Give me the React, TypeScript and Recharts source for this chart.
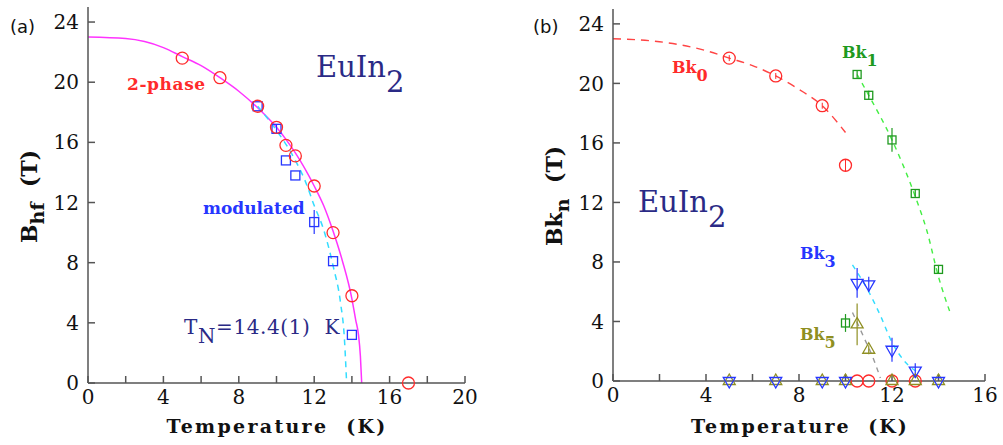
import React from 'react'
import { ComposedChart, Line, Scatter, XAxis, YAxis, ErrorBar } from 'recharts'

const SERIF = '"DejaVu Serif", "Liberation Serif", serif'
const NAVY = '#2a2a86'
const RED = '#ff2b2b'
const BLUE = '#2636ff'
const GREEN = '#1f9a1f'
const OLIVE = '#8f8f22'

// panel (a): B_hf vs T
const A_PHASE_T = [5, 7, 9, 10, 10.5, 11, 12, 13, 14, 17]
const A_PHASE_B = [21.6, 20.3, 18.4, 17.0, 15.8, 15.1, 13.1, 10.0, 5.8, 0]
const A_MOD_T = [9, 10, 10.5, 11, 12, 13, 14]
const A_MOD_B = [18.4, 16.9, 14.8, 13.8, 10.7, 8.1, 3.2]
const A_MOD_ERR = [0, 0.3, 0, 0, 0.8, 0, 0]
const A_FIT_T = [0, 2, 3, 4, 5, 6, 7, 8, 9, 10, 10.5, 11, 12, 12.5, 13, 13.5, 14, 14.2, 14.35, 14.45, 14.52]
const A_FIT_B = [23, 22.9, 22.7, 22.3, 21.7, 21.1, 20.3, 19.4, 18.3, 17.0, 16.2, 15.3, 13.1, 11.8, 10.1, 8.1, 5.6, 4.2, 3.2, 1.8, 0]
const A_MODFIT_T = [9, 10, 11, 11.5, 12, 12.5, 13, 13.4, 13.6, 13.72]
const A_MODFIT_B = [18.4, 16.8, 14.8, 13.5, 11.8, 10.2, 7.8, 5.3, 3.0, 0]
const A_XTICKS = [0, 2, 4, 6, 8, 10, 12, 14, 16, 18, 20]
const A_YTICKS = [0, 4, 8, 12, 16, 20, 24]

// panel (b): Bk_n vs T
const B0_T = [5, 7, 9, 10, 10.5, 11, 12, 13]
const B0_B = [21.7, 20.5, 18.5, 14.5, 0, 0, 0, 0]
const B0_ERR = [0.2, 0.2, 0.2, 0.4, 0, 0, 0, 0]
const B1_T = [10, 10.5, 11, 12, 13, 14]
const B1_B = [3.9, 20.6, 19.2, 16.2, 12.6, 7.5]
const B1_ERR = [0.6, 0.3, 0.3, 0.8, 0.3, 0.3]
const B3_T = [5, 7, 9, 10, 10.5, 11, 12, 13, 14]
const B3_B = [0, 0, 0, 0, 6.6, 6.5, 2.1, 0.7, 0]
const B3_ERR = [0, 0, 0, 0, 1.0, 0.5, 0.8, 0.5, 0]
const B5_T = [5, 7, 9, 10, 10.5, 11, 12, 13, 14]
const B5_B = [0, 0, 0, 0, 3.8, 2.1, 0, 0, 0]
const B5_ERR = [0, 0, 0, 0, 1.4, 0.3, 0, 0, 0]
const B0_FIT_T = [0, 2, 4, 5, 6, 7, 8, 9, 10]
const B0_FIT_B = [23, 22.8, 22.2, 21.7, 21.2, 20.5, 19.6, 18.5, 16.7]
const B1_FIT_T = [10.5, 11, 12, 13, 13.5, 14, 14.5]
const B1_FIT_B = [20.6, 19.2, 16.2, 12.4, 10.1, 7.0, 4.6]
const B3_FIT_T = [10.3, 11, 11.5, 12, 12.5, 13.2]
const B3_FIT_B = [7.8, 6.0, 4.4, 2.6, 1.4, 0.5]
const B5_FIT_T = [10.3, 10.8, 11.2, 11.5]
const B5_FIT_B = [4.6, 2.9, 1.5, 0.2]
const B_XTICKS = [0, 2, 4, 6, 8, 10, 12, 14, 16]
const B_YTICKS = [0, 4, 8, 12, 16, 20, 24]

const pts = (xs: number[], ys: number[], es?: number[]) =>
  xs.map((x, i) => ({ x, y: ys[i], e: es ? es[i] : 0 }))

const ring = (color: string, r = 5.5) => (p: any) =>
  <circle cx={p.cx} cy={p.cy} r={r} fill="none" stroke={color} strokeWidth={1.3} />
const box = (color: string, s = 9) => (p: any) =>
  <rect x={p.cx - s / 2} y={p.cy - s / 2} width={s} height={s} fill="none" stroke={color} strokeWidth={1.3} />
const tri = (color: string, down: boolean, s = 12) => (p: any) => {
  const h = s * 0.87
  const d = down
    ? `M${p.cx - s / 2},${p.cy - h / 3}L${p.cx + s / 2},${p.cy - h / 3}L${p.cx},${p.cy + (2 * h) / 3}Z`
    : `M${p.cx - s / 2},${p.cy + h / 3}L${p.cx + s / 2},${p.cy + h / 3}L${p.cx},${p.cy - (2 * h) / 3}Z`
  return <path d={d} fill="none" stroke={color} strokeWidth={1.3} />
}

const AX = '#555'
const tickStyle = { fill: '#111', fontSize: 20, fontFamily: SERIF }
const every4 = (v: number) => (v % 4 === 0 ? String(v) : '')

// box frame: labelled bottom/left axes, blank top/right ones, all ticks pointing inward
function axes(xTicks: number[], yTicks: number[], xMax: number) {
  const line = { stroke: AX, strokeWidth: 1.5 }
  return [
    <XAxis key="xb" xAxisId={0} dataKey="x" type="number" domain={[0, xMax]} ticks={xTicks} interval={0}
      tickFormatter={every4} tickSize={-7} tickMargin={14} height={30}
      axisLine={line} tickLine={line} tick={tickStyle} />,
    <XAxis key="xt" xAxisId="top" orientation="top" dataKey="x" type="number" domain={[0, xMax]} ticks={xTicks}
      interval={0} tickFormatter={() => ''} tickSize={-7} height={0}
      axisLine={line} tickLine={line} tick={tickStyle} />,
    <YAxis key="yl" yAxisId={0} type="number" domain={[0, 25]} ticks={yTicks} interval={0}
      tickSize={-7} tickMargin={16} width={60} axisLine={line} tickLine={line} tick={tickStyle} />,
    <YAxis key="yr" yAxisId="right" orientation="right" type="number" domain={[0, 25]} ticks={yTicks} interval={0}
      tickFormatter={() => ''} tickSize={-7} width={0} axisLine={line} tickLine={line} tick={tickStyle} />,
  ]
}

function PanelA() {
  return (
    <ComposedChart width={490} height={445} margin={{ top: 7, right: 25, bottom: 32, left: 28 }}>
      {axes(A_XTICKS, A_YTICKS, 20)}
      <Line data={pts(A_FIT_T, A_FIT_B)} dataKey="y" type="monotone" stroke="#ff33ff" strokeWidth={1.5}
        dot={false} isAnimationActive={false} />
      <Line data={pts(A_MODFIT_T, A_MODFIT_B)} dataKey="y" type="monotone" stroke="#33ddff" strokeWidth={1.5}
        strokeDasharray="6 5" dot={false} isAnimationActive={false} />
      <Scatter data={pts(A_MOD_T, A_MOD_B, A_MOD_ERR)} dataKey="y" shape={box(BLUE)} isAnimationActive={false}>
        <ErrorBar dataKey="e" direction="y" width={0} stroke={BLUE} strokeWidth={1.2} />
      </Scatter>
      <Scatter data={pts(A_PHASE_T, A_PHASE_B)} dataKey="y" shape={ring(RED, 6)} isAnimationActive={false} />
    </ComposedChart>
  )
}

function PanelB() {
  return (
    <ComposedChart width={503} height={445} margin={{ top: 9, right: 18, bottom: 34, left: 53 }}>
      {axes(B_XTICKS, B_YTICKS, 16)}
      <Line data={pts(B0_FIT_T, B0_FIT_B)} dataKey="y" type="monotone" stroke="#ff4444" strokeWidth={1.4}
        strokeDasharray="8 6" dot={false} isAnimationActive={false} />
      <Line data={pts(B1_FIT_T, B1_FIT_B)} dataKey="y" type="monotone" stroke="#44ee44" strokeWidth={1.4}
        strokeDasharray="5 5" dot={false} isAnimationActive={false} />
      <Line data={pts(B3_FIT_T, B3_FIT_B)} dataKey="y" type="monotone" stroke="#33ddff" strokeWidth={1.4}
        strokeDasharray="5 5" dot={false} isAnimationActive={false} />
      <Line data={pts(B5_FIT_T, B5_FIT_B)} dataKey="y" type="monotone" stroke="#999999" strokeWidth={1.4}
        strokeDasharray="5 5" dot={false} isAnimationActive={false} />
      <Scatter data={pts(B0_T, B0_B, B0_ERR)} dataKey="y" shape={ring(RED, 6)} isAnimationActive={false}>
        <ErrorBar dataKey="e" direction="y" width={0} stroke={RED} strokeWidth={1} />
      </Scatter>
      <Scatter data={pts(B1_T, B1_B, B1_ERR)} dataKey="y" shape={box(GREEN, 8)} isAnimationActive={false}>
        <ErrorBar dataKey="e" direction="y" width={0} stroke={GREEN} strokeWidth={1.2} />
      </Scatter>
      <Scatter data={pts(B5_T, B5_B, B5_ERR)} dataKey="y" shape={tri(OLIVE, false)} isAnimationActive={false}>
        <ErrorBar dataKey="e" direction="y" width={0} stroke={OLIVE} strokeWidth={1.2} />
      </Scatter>
      <Scatter data={pts(B3_T, B3_B, B3_ERR)} dataKey="y" shape={tri(BLUE, true)} isAnimationActive={false}>
        <ErrorBar dataKey="e" direction="y" width={0} stroke={BLUE} strokeWidth={1.2} />
      </Scatter>
    </ComposedChart>
  )
}

function Sub({ x, y, main, sub, rest, color, size, subSize, dy, bold, spacing = 0 }: any) {
  return (
    <text x={x} y={y} fill={color} fontSize={size} fontFamily={SERIF} fontWeight={bold ? 'bold' : 'normal'}
      letterSpacing={spacing} style={{ whiteSpace: 'pre' }}>
      {main}
      <tspan dy={dy} fontSize={subSize}>{sub}</tspan>
      {rest ? <tspan dy={-dy}>{rest}</tspan> : null}
    </text>
  )
}

function Labels() {
  return (
    <svg width={1003} height={445} style={{ position: 'absolute', left: 0, top: 0, pointerEvents: 'none' }}>
      <text x={10} y={33} fontSize={18} fontFamily='"DejaVu Sans", sans-serif' fill="#111">(a)</text>
      <text x={533} y={33} fontSize={18} fontFamily='"DejaVu Sans", sans-serif' fill="#111">(b)</text>

      <text x={277} y={433} textAnchor="middle" fontSize={19} fontWeight="bold" fontFamily={SERIF}
        letterSpacing={2.3} fill="#111" style={{ whiteSpace: 'pre' }}>Temperature  (K)</text>
      <text x={800} y={433} textAnchor="middle" fontSize={19} fontWeight="bold" fontFamily={SERIF}
        letterSpacing={2.1} fill="#111" style={{ whiteSpace: 'pre' }}>Temperature  (K)</text>

      <g transform="translate(37,243) rotate(-90)">
        <Sub x={0} y={0} main="B" sub="hf" rest="  (T)" color="#111" size={22} subSize={19} dy={7} bold />
      </g>
      <g transform="translate(562,246) rotate(-90)">
        <Sub x={0} y={0} main="Bk" sub="n" rest="  (T)" color="#111" size={22} subSize={19} dy={7} bold />
      </g>

      <Sub x={316} y={77} main="EuIn" sub="2" color={NAVY} size={29} subSize={29} dy={15} />
      <Sub x={638} y={212} main="EuIn" sub="2" color={NAVY} size={29} subSize={29} dy={15} />

      <text x={127} y={90} fill={RED} fontSize={17} fontWeight="bold" fontFamily={SERIF} letterSpacing={0.6}>2-phase</text>
      <text x={203} y={214} fill={BLUE} fontSize={17} fontWeight="bold" fontFamily={SERIF}>modulated</text>
      <Sub x={184} y={334} main="T" sub="N" rest="=14.4(1)  K" color={NAVY} size={20} subSize={20} dy={9} spacing={0.6} />

      <Sub x={672} y={73} main="Bk" sub="0" color={RED} size={16} subSize={16} dy={8} bold />
      <Sub x={842} y={58} main="Bk" sub="1" color={GREEN} size={16} subSize={16} dy={8} bold />
      <Sub x={800} y={259} main="Bk" sub="3" color={BLUE} size={16} subSize={16} dy={8} bold />
      <Sub x={800} y={340} main="Bk" sub="5" color={OLIVE} size={16} subSize={16} dy={8} bold />
    </svg>
  )
}

export default function App() {
  return (
    <div style={{ position: 'relative', width: 1003, height: 445, background: '#fff' }}>
      <style>{'body{margin:0}'}</style>
      <div style={{ position: 'absolute', left: 0, top: 0 }}>
        <PanelA />
      </div>
      <div style={{ position: 'absolute', left: 500, top: 0 }}>
        <PanelB />
      </div>
      <Labels />
    </div>
  )
}
